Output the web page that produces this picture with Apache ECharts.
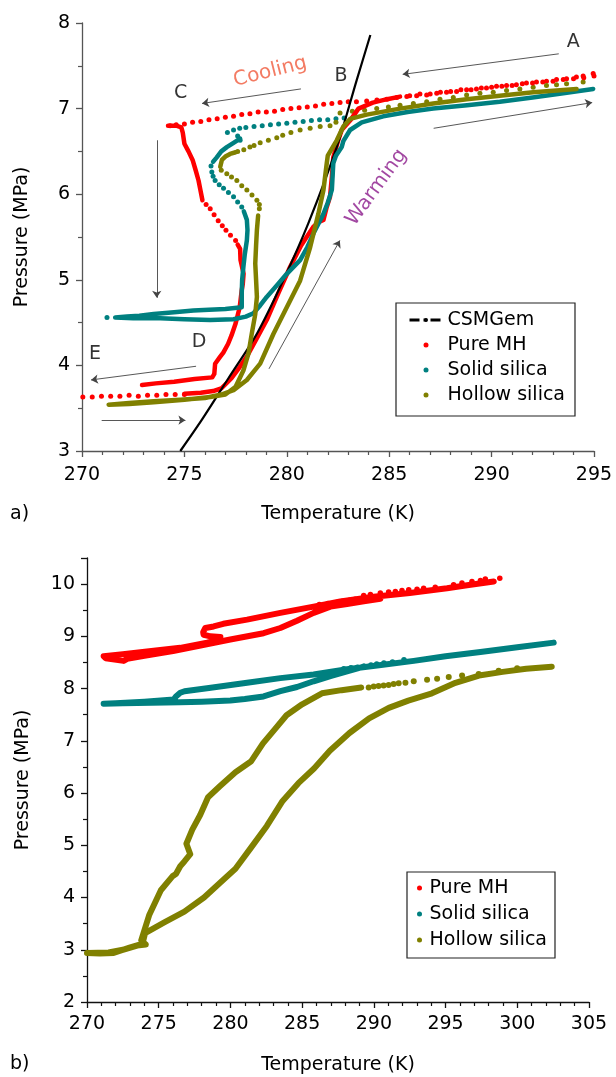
<!DOCTYPE html>
<html><head><meta charset="utf-8">
<script src="https://cdn.jsdelivr.net/npm/echarts@6/dist/echarts.min.js"></script>
<style>html,body{margin:0;padding:0;background:#fff}#c{width:616px;height:1077px}</style>
</head><body><div id="c"></div><script>
// ---------- axis ranges ----------
const xRangeA = [270, 295], yRangeA = [3, 8];
const xRangeB = [270, 305], yRangeB = [2, 10.5];
const seriesNames = ['CSMGem', 'Pure MH', 'Solid silica', 'Hollow silica'];
const seriesColors = ['#000000', '#ff0000', '#008080', '#808000'];

// ---------- panel a : CSMGem equilibrium curve ----------
const csmT = [274.80, 275.84, 277.15, 278.54, 279.80, 281.05, 282.44, 283.41, 284.08];
const csmP = [3.00, 3.36, 3.85, 4.37, 4.98, 5.66, 6.55, 7.33, 7.86];

// ---------- panel a : Pure MH ----------
const redA_coolDots = [[294.96,7.41],[294.47,7.38],[294.14,7.37],[293.66,7.35],[293.17,7.34],[292.68,7.32],[292.19,7.31],[291.70,7.30],[291.21,7.28],[290.73,7.27],[290.24,7.26],[289.75,7.24],[289.26,7.23],[288.78,7.22],[288.29,7.20],[287.80,7.19],[287.32,7.18],[286.83,7.16],[286.34,7.15],[285.86,7.14],[285.37,7.13],[284.88,7.11],[284.40,7.10],[283.90,7.09],[283.40,7.08],[283.00,7.08],[282.60,7.07],[282.20,7.06],[281.80,7.05],[281.40,7.03],[281.00,7.02],[280.60,7.01],[280.20,7.00],[279.80,6.99],[279.40,6.97],[279.00,6.96],[278.60,6.96],[278.20,6.94],[277.80,6.93],[277.40,6.91],[277.00,6.90],[276.60,6.88],[276.20,6.87],[275.80,6.85],[275.40,6.84],[275.00,6.82],[274.60,6.81],[274.30,6.80]];
const redA_midDots = [[276.06,5.88],[276.26,5.83],[276.45,5.76],[276.65,5.69],[276.85,5.63],[277.03,5.58],[277.25,5.52],[277.50,5.46]];
const redA_lowDots = [[270.04,3.63],[270.50,3.63],[270.95,3.64],[271.40,3.64],[271.85,3.64],[272.30,3.65],[272.75,3.64],[273.20,3.65],[273.65,3.65],[274.10,3.66],[274.55,3.66],[275.00,3.66]];
const redA_warmDots = [[286.00,7.15],[286.50,7.17],[287.00,7.17],[287.50,7.19],[288.00,7.20],[288.50,7.22],[289.00,7.22],[289.50,7.24],[290.00,7.25],[290.50,7.26],[291.00,7.27],[291.50,7.29],[292.00,7.30],[292.50,7.31],[293.00,7.32],[293.50,7.34],[294.00,7.35],[294.50,7.36],[295.00,7.38]];
const redA_path1 = [[274.20,6.80],[274.60,6.80],[274.85,6.78],[274.92,6.72],[275.00,6.59],[275.20,6.50],[275.40,6.40],[275.55,6.28],[275.69,6.16],[275.78,6.05],[275.88,5.93]];
const redA_path2 = [[277.60,5.41],[277.72,5.36],[277.74,5.23],[277.89,5.07],[277.85,4.95],[277.80,4.88],[277.70,4.68],[277.50,4.49],[277.30,4.35],[277.13,4.25],[276.90,4.15],[276.74,4.10],[276.50,4.02],[276.46,3.90],[276.36,3.86],[275.50,3.84],[274.50,3.81],[273.60,3.79],[272.93,3.77]];
const redA_path3 = [[275.00,3.67],[275.80,3.68],[276.40,3.70],[276.80,3.73],[277.30,3.85],[277.70,3.98],[278.04,4.10],[278.50,4.30],[279.02,4.53],[279.60,4.85],[280.16,5.15],[280.70,5.40],[281.30,5.62],[281.60,5.68],[281.79,5.70],[281.95,5.85],[282.11,5.97],[282.20,6.20],[282.27,6.43],[282.50,6.62],[282.68,6.75],[283.09,6.86],[283.50,7.00],[284.20,7.07],[284.90,7.11],[285.53,7.14]];

// ---------- panel a : Solid silica ----------
const tealA_dots = [[282.80,6.89],[282.40,6.88],[282.00,6.87],[281.60,6.87],[281.20,6.86],[280.80,6.85],[280.40,6.84],[280.00,6.83],[279.60,6.82],[279.20,6.81],[278.80,6.80],[278.40,6.79],[278.00,6.78],[277.70,6.77],[277.40,6.75],[277.10,6.72],[277.60,6.68],[277.72,6.63],[276.30,6.33],[276.34,6.26],[276.40,6.21],[276.50,6.16],[276.70,6.11],[276.91,6.07],[277.15,6.02],[277.40,5.97],[277.60,5.91],[277.80,5.85],[271.22,4.56]];
const tealA_path1 = [[277.72,6.65],[277.40,6.60],[277.07,6.55],[276.80,6.50],[276.58,6.43],[276.40,6.38]];
const tealA_path2 = [[277.90,5.80],[278.05,5.70],[278.08,5.58],[278.05,5.46],[277.95,5.30],[277.88,5.15],[277.82,5.00],[277.80,4.84],[277.80,4.68],[277.00,4.66],[276.20,4.65],[275.44,4.64],[274.50,4.62],[273.50,4.60],[272.80,4.58],[272.20,4.57],[271.62,4.56],[272.50,4.55],[273.82,4.55],[275.00,4.54],[276.26,4.53],[277.40,4.54],[278.00,4.57],[278.37,4.61],[278.70,4.70],[279.02,4.80],[279.50,4.93],[280.00,5.07],[280.65,5.23],[281.00,5.38],[281.30,5.54],[281.79,5.77],[282.00,5.90],[282.20,6.05],[282.27,6.36],[282.40,6.45],[282.68,6.55],[282.76,6.62],[283.09,6.75],[283.66,6.84],[284.71,6.91],[285.90,6.96],[287.15,7.00],[288.80,7.04],[290.40,7.08],[292.00,7.13],[293.50,7.18],[294.96,7.23]];

// ---------- panel a : Hollow silica ----------
const oliveA_dots = [[294.47,7.31],[293.66,7.29],[293.17,7.28],[292.68,7.27],[292.03,7.25],[291.38,7.23],[290.73,7.21],[290.08,7.19],[289.43,7.18],[288.78,7.16],[288.13,7.13],[287.48,7.11],[286.83,7.08],[286.18,7.06],[285.53,7.04],[284.96,7.02],[284.39,7.00],[283.80,6.98],[283.20,6.97],[282.60,6.95],[282.40,6.84],[282.11,6.80],[281.63,6.79],[281.14,6.77],[280.65,6.75],[280.20,6.72],[279.80,6.69],[279.51,6.66],[279.10,6.63],[278.70,6.60],[278.40,6.57],[278.20,6.55],[277.90,6.52],[277.60,6.50],[276.80,6.28],[277.07,6.24],[277.30,6.20],[277.56,6.16],[277.80,6.10],[278.05,6.05],[278.30,5.99],[278.54,5.93],[278.66,5.88],[278.66,5.83]];
const oliveA_path1 = [[277.50,6.49],[277.23,6.47],[277.00,6.44],[276.83,6.40],[276.75,6.32]];
const oliveA_path2 = [[278.60,5.75],[278.54,5.58],[278.50,5.40],[278.46,5.19],[278.50,5.00],[278.54,4.80],[278.50,4.70],[278.46,4.60],[278.29,4.37],[278.13,4.14],[277.88,3.94],[277.50,3.75],[277.00,3.66],[276.26,3.63],[275.00,3.60],[273.50,3.57],[272.30,3.55],[271.30,3.54],[272.30,3.56],[273.50,3.58],[274.80,3.60],[276.00,3.62],[276.80,3.66],[277.40,3.71],[278.05,3.83],[278.70,4.02],[279.35,4.37],[280.00,4.68],[280.65,4.99],[281.14,5.38],[281.54,5.77],[281.79,6.05],[281.95,6.36],[282.00,6.45],[282.44,6.63],[282.76,6.79],[283.09,6.88],[283.90,6.93],[285.53,7.00],[287.15,7.06],[288.78,7.11],[290.40,7.15],[292.03,7.19],[294.15,7.23]];

// ---------- panel b ----------
const redB_path = [[298.36,10.05],[296.50,9.98],[295.10,9.92],[292.50,9.83],[289.99,9.76],[287.66,9.67],[285.80,9.57],[283.48,9.45],[281.16,9.32],[279.50,9.24],[278.83,9.19],[278.25,9.16],[278.10,9.08],[278.13,9.03],[278.60,9.00],[279.30,8.99],[279.10,8.93],[278.37,8.88],[276.50,8.78],[274.18,8.71],[272.50,8.66],[271.16,8.62],[271.30,8.58],[272.55,8.53],[272.80,8.57],[274.00,8.63],[276.00,8.72],[278.00,8.83],[279.99,8.94],[282.31,9.06],[283.48,9.16],[284.64,9.30],[285.80,9.45],[286.97,9.57],[288.13,9.62],[289.30,9.67],[290.45,9.72]];
const redB_dots = [[286.20,9.61],[286.80,9.63],[287.40,9.65],[287.80,9.67],[288.30,9.69],[288.70,9.71],[289.29,9.78],[289.76,9.80],[290.45,9.83],[291.03,9.85],[291.50,9.86],[291.96,9.88],[292.43,9.89],[293.01,9.90],[293.47,9.92],[294.28,9.94],[295.56,9.99],[296.14,10.02],[296.84,10.05],[297.43,10.07],[297.77,10.10],[298.78,10.11]];
const tealB_path = [[302.54,8.88],[300.00,8.79],[297.43,8.70],[295.00,8.62],[292.78,8.53],[290.50,8.45],[288.13,8.37],[285.80,8.27],[283.48,8.20],[281.16,8.11],[278.50,8.01],[276.80,7.95],[276.50,7.92],[276.20,7.85],[276.04,7.79],[274.00,7.75],[272.00,7.72],[271.16,7.71],[272.50,7.72],[274.50,7.73],[276.50,7.74],[278.00,7.75],[279.99,7.77],[281.00,7.80],[282.31,7.85],[283.48,7.95],[284.64,8.03],[285.80,8.14],[286.97,8.24],[288.13,8.33],[289.30,8.42]];
const tealB_dots = [[287.90,8.38],[288.40,8.40],[288.85,8.41],[289.30,8.43],[289.80,8.45],[290.20,8.47],[290.70,8.49],[291.30,8.51],[292.10,8.55]];
const oliveB_path = [[302.40,8.42],[300.62,8.38],[298.98,8.32],[297.33,8.25],[295.69,8.11],[294.05,7.91],[292.40,7.77],[291.04,7.63],[289.67,7.43],[288.30,7.15],[286.93,6.81],[285.83,6.47],[284.74,6.19],[283.64,5.85],[282.54,5.37],[281.45,4.96],[280.35,4.55],[279.26,4.28],[278.16,4.00],[276.79,3.73],[275.42,3.53],[274.05,3.32],[273.90,3.15],[273.78,3.11],[272.96,3.04],[271.86,2.94],[270.90,2.93],[270.00,2.94],[271.50,2.95],[272.50,3.00],[273.50,3.08],[274.10,3.10],[273.78,3.18],[274.33,3.66],[275.15,4.14],[275.97,4.41],[276.20,4.45],[276.50,4.60],[276.79,4.69],[277.20,4.83],[276.93,5.03],[277.34,5.30],[277.89,5.58],[278.44,5.92],[279.26,6.13],[280.35,6.40],[281.45,6.61],[282.27,6.95],[283.09,7.22],[283.91,7.49],[285.00,7.70],[286.38,7.91],[287.75,7.97],[289.12,8.02]];
const oliveB_dots = [[289.64,8.02],[289.99,8.04],[290.33,8.05],[290.68,8.06],[291.03,8.07],[291.38,8.09],[291.73,8.10],[292.20,8.11],[292.78,8.14],[293.71,8.17],[294.41,8.19],[295.22,8.22],[296.15,8.25],[297.31,8.28],[298.70,8.34],[299.99,8.39]];

// ---------- annotations (panel a, data coordinates) ----------
const annoText = ['A', 'B', 'C', 'D', 'E', 'Cooling', 'Warming'];
const annoPos = [[293.99,7.78],[282.65,7.38],[274.82,7.18],[275.72,4.27],[270.63,4.13],[279.19,7.43],[284.38,6.08]];
const arrowFrom = [[293.28,7.64],[280.69,7.23],[287.17,6.77],[273.65,6.63],[275.57,3.99],[270.96,3.36],[279.13,3.96]];
const arrowTo   = [[285.66,7.40],[275.86,7.06],[294.91,7.07],[273.65,4.79],[270.44,3.83],[275.05,3.36],[282.59,5.46]];

const FONT = 'DejaVu Sans';
const chart = echarts.init(document.getElementById('c'), null, {renderer: 'canvas'});

function dots(name, data, gi, color, size) {
  return {type: 'scatter', name, xAxisIndex: gi, yAxisIndex: gi, data, symbolSize: size,
    itemStyle: {color, opacity: 1}, silent: true, animation: false};
}
function path(name, data, gi, color, width) {
  return {type: 'line', name, xAxisIndex: gi, yAxisIndex: gi, data, symbol: 'none', showSymbol: false,
    lineStyle: {color, width, cap: 'round', join: 'round'}, itemStyle: {color}, silent: true, animation: false};
}
function xAxis(gi, range, color) {
  return {type: 'value', gridIndex: gi, min: range[0], max: range[1], interval: 5,
    name: 'Temperature (K)', nameLocation: 'middle', nameGap: 54,
    nameTextStyle: {fontSize: 19, color: '#000', fontFamily: FONT},
    axisLine: {show: true, onZero: false, lineStyle: {color, width: 1.3}},
    axisTick: {show: true, length: 6, lineStyle: {color, width: 1.3}},
    minorTick: {show: true, splitNumber: 5, length: 4, lineStyle: {color, width: 1.2}},
    splitLine: {show: false}, minorSplitLine: {show: false},
    axisLabel: {fontSize: 19, color: '#000', fontFamily: FONT, margin: gi === 0 ? 15 : 13}};
}
function yAxis(gi, range, color) {
  return {type: 'value', gridIndex: gi, min: range[0], max: range[1], interval: 1,
    name: 'Pressure (MPa)', nameLocation: 'middle', nameGap: gi === 0 ? 50 : 54,
    nameTextStyle: {fontSize: 19, color: '#000', fontFamily: FONT},
    axisLine: {show: true, onZero: false, lineStyle: {color, width: 1.3}},
    axisTick: {show: true, length: 6, lineStyle: {color, width: 1.3}},
    minorTick: {show: true, splitNumber: 2, length: 4, lineStyle: {color, width: 1.2}},
    splitLine: {show: false}, minorSplitLine: {show: false},
    axisLabel: {fontSize: 19, color: '#000', fontFamily: FONT, margin: 12,
      formatter: v => (Number.isInteger(v) ? String(v) : '')}};
}

const R = seriesColors[1], T = seriesColors[2], O = seriesColors[3];
const series = [
  dots('Pure MH', redA_coolDots, 0, R, 5),
  dots('Solid silica', tealA_dots, 0, T, 5),
  dots('Hollow silica', oliveA_dots, 0, O, 5),
  dots('Pure MH', redA_midDots, 0, R, 5),
  dots('Pure MH', redA_lowDots, 0, R, 5),
  dots('Pure MH', redA_warmDots, 0, R, 5),
  path('Pure MH', redA_path1, 0, R, 4.5),
  path('Pure MH', redA_path2, 0, R, 4.5),
  path('Pure MH', redA_path3, 0, R, 4.5),
  {type: 'line', name: 'CSMGem', xAxisIndex: 0, yAxisIndex: 0, data: csmT.map((t, i) => [t, csmP[i]]),
    symbol: 'none', showSymbol: false, smooth: 0.3, lineStyle: {color: '#000', width: 2.2},
    itemStyle: {color: '#000'}, silent: true, animation: false},
  path('Solid silica', tealA_path1, 0, T, 4.5),
  path('Solid silica', tealA_path2, 0, T, 4.5),
  path('Hollow silica', oliveA_path1, 0, O, 4.5),
  path('Hollow silica', oliveA_path2, 0, O, 4.5),
  path('Pure MH', redB_path, 1, R, 6),
  dots('Pure MH', redB_dots, 1, R, 5.5),
  path('Solid silica', tealB_path, 1, T, 6),
  dots('Solid silica', tealB_dots, 1, T, 5.5),
  path('Hollow silica', oliveB_path, 1, O, 6),
  dots('Hollow silica', oliveB_dots, 1, O, 6),
  {type: 'scatter', name: 'annotations', xAxisIndex: 0, yAxisIndex: 0, symbolSize: 0, silent: true, animation: false,
    z: 5,
    data: annoText.map((t, i) => ({value: annoPos[i], label: {
      show: true, formatter: t, position: 'inside', fontFamily: FONT,
      fontSize: (t === 'Cooling' || t === 'Warming') ? 20 : 19,
      color: t === 'Cooling' ? '#f05a3c' : (t === 'Warming' ? '#8b1a8b' : '#000'),
      rotate: t === 'Cooling' ? 14 : (t === 'Warming' ? 54 : 0)}})),
    markLine: {silent: true, animation: false, symbol: ['none', 'arrow'], symbolSize: 7,
      lineStyle: {color: '#444', width: 0.9, type: 'solid'}, label: {show: false},
      emphasis: {disabled: true},
      data: arrowFrom.map((p, i) => [{coord: p}, {coord: arrowTo[i]}])}}
];

chart.setOption({
  animation: false,
  backgroundColor: '#ffffff',
  textStyle: {fontFamily: FONT},
  title: [
    {text: 'a)', left: 10, top: 505, textStyle: {fontSize: 19, fontWeight: 'normal', color: '#000', fontFamily: FONT}, padding: 0},
    {text: 'b)', left: 10, top: 1055, textStyle: {fontSize: 19, fontWeight: 'normal', color: '#000', fontFamily: FONT}, padding: 0}
  ],
  grid: [
    {left: 82, top: 23, width: 512, height: 428, containLabel: false},
    {left: 87, top: 558, width: 502, height: 444, containLabel: false}
  ],
  xAxis: [xAxis(0, xRangeA, '#555'), xAxis(1, xRangeB, '#111')],
  yAxis: [yAxis(0, yRangeA, '#555'), yAxis(1, yRangeB, '#111')],
  legend: [
    {data: [{name: 'CSMGem', lineStyle: {width: 3, type: [10, 4, 3, 4]}}, 'Pure MH', 'Solid silica', 'Hollow silica'],
      orient: 'vertical', left: 396, top: 303, padding: [6, 10, 10, 12], itemGap: 3,
      itemWidth: 33, itemHeight: 5, selectedMode: false, backgroundColor: '#fff',
      borderColor: '#222', borderWidth: 1.2, textStyle: {fontSize: 19, color: '#000', fontFamily: FONT, lineHeight: 22}},
    {data: ['Pure MH', 'Solid silica', 'Hollow silica'],
      orient: 'vertical', left: 407, top: 872, padding: [5, 8, 7, 10], itemGap: 4,
      itemWidth: 10, itemHeight: 5, selectedMode: false, backgroundColor: '#fff',
      borderColor: '#222', borderWidth: 1.2, textStyle: {fontSize: 19, color: '#000', fontFamily: FONT, lineHeight: 22}}
  ],
  series
});
</script></body></html>
